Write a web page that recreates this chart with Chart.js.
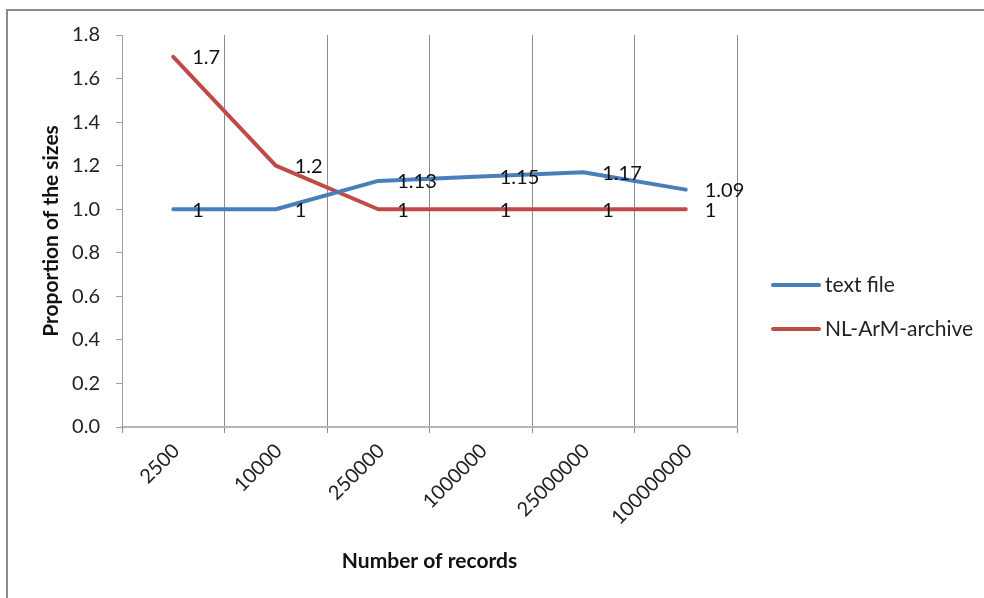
<!DOCTYPE html>
<html>
<head>
<meta charset="utf-8">
<script src="https://cdn.jsdelivr.net/npm/chart.js@4.4.1/dist/chart.umd.min.js"></script>
<style>
  html, body { margin: 0; padding: 0; background: #fff; overflow: hidden; }
  #wrap { position: relative; width: 984px; height: 598px; }
  #frame { position: absolute; left: 6px; top: 9px; width: 1100px; height: 700px;
           border: 2px solid #8a8a8a; box-sizing: border-box; }
  #c { position: absolute; left: 0; top: 0; }
</style>
</head>
<body>
<div id="wrap">
  <div id="frame"></div>
  <canvas id="c" width="984" height="598"></canvas>
</div>
<script>
// Record counts on the x axis
const recordCounts = ['2500', '10000', '250000', '1000000', '25000000', '100000000'];
// Size proportions per storage format
const textFile = [1, 1, 1.13, 1.15, 1.17, 1.09];
const nlArmArchive = [1.7, 1.2, 1, 1, 1, 1];
const seriesNames = ['text file', 'NL-ArM-archive'];
const seriesColors = ['#4a7ebb', '#be4b48'];

const FONT = 'Lato, "Liberation Sans", sans-serif';

// Value labels drawn to the right of each point
const valueLabels = {
  id: 'valueLabels',
  afterDatasetsDraw(chart) {
    const ctx = chart.ctx;
    ctx.save();
    ctx.font = '20px ' + FONT;
    ctx.fillStyle = '#111';
    ctx.textAlign = 'left';
    ctx.textBaseline = 'middle';
    chart.data.datasets.forEach((ds, i) => {
      const meta = chart.getDatasetMeta(i);
      meta.data.forEach((pt, j) => {
        ctx.fillText(String(ds.data[j]), pt.x + 19, pt.y + 1);
      });
    });
    ctx.restore();
  }
};

// Legend on the right with line swatches
const sideLegend = {
  id: 'sideLegend',
  afterDraw(chart) {
    const ctx = chart.ctx;
    const x0 = chart.chartArea.right + 36;
    const yStart = 285;
    const step = 44;
    ctx.save();
    ctx.font = '21px ' + FONT;
    ctx.textAlign = 'left';
    ctx.textBaseline = 'middle';
    chart.data.datasets.forEach((ds, i) => {
      const y = yStart + i * step;
      ctx.strokeStyle = ds.borderColor;
      ctx.lineWidth = 4;
      ctx.lineCap = 'round';
      ctx.beginPath();
      ctx.moveTo(x0, y);
      ctx.lineTo(x0 + 46, y);
      ctx.stroke();
      ctx.fillStyle = '#222';
      ctx.fillText(ds.label, x0 + 52, y);
    });
    ctx.restore();
  }
};

new Chart(document.getElementById('c'), {
  type: 'line',
  data: {
    labels: recordCounts,
    datasets: [
      { label: seriesNames[0], data: textFile, borderColor: seriesColors[0], backgroundColor: seriesColors[0] },
      { label: seriesNames[1], data: nlArmArchive, borderColor: seriesColors[1], backgroundColor: seriesColors[1] }
    ]
  },
  options: {
    responsive: false,
    animation: false,
    events: [],
    layout: { padding: { left: 0, top: 35, right: 247, bottom: 0 } },
    elements: {
      line: { borderWidth: 4, tension: 0, borderCapStyle: 'round', borderJoinStyle: 'round' },
      point: { radius: 0 }
    },
    plugins: { legend: { display: false }, tooltip: { enabled: false } },
    scales: {
      x: {
        offset: true,
        grid: { offset: true, color: '#8c8c8c', lineWidth: 1, tickLength: 6, drawTicks: true },
        border: { color: '#b4b4b4', width: 2 },
        ticks: { color: '#222', font: { family: FONT, size: 20 }, maxRotation: 45, minRotation: 45, padding: 6, labelOffset: 3 },
        title: { display: true, text: 'Number of records', color: '#111', font: { family: FONT, size: 21, weight: 'bold' }, padding: { top: 0, bottom: 24 } },
        afterFit(scale) { scale.height = 171; }
      },
      y: {
        min: 0, max: 1.8,
        grid: { drawOnChartArea: false, drawTicks: true, tickLength: 6, color: '#a0a0a0' },
        border: { color: '#a0a0a0', width: 1 },
        ticks: { stepSize: 0.2, color: '#222', font: { family: FONT, size: 20 }, padding: 16,
                 callback: v => v.toFixed(1) },
        title: { display: true, text: 'Proportion of the sizes', color: '#111', font: { family: FONT, size: 21, weight: 'bold' }, padding: { top: 39, bottom: 0 } },
        afterFit(scale) { scale.width = 122; }
      }
    }
  },
  plugins: [valueLabels, sideLegend]
});
</script>
</body>
</html>
